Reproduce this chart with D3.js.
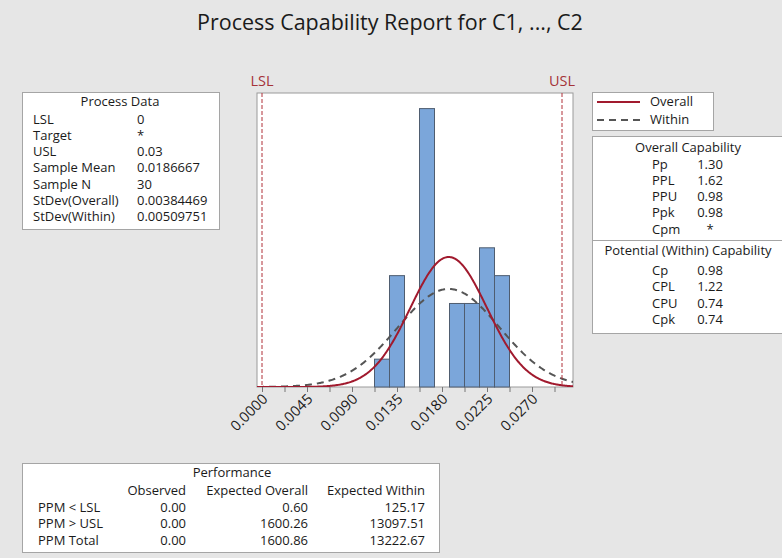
<!DOCTYPE html>
<html><head><meta charset="utf-8">
<script src="https://cdn.jsdelivr.net/npm/d3@7"></script>
<style>
body{margin:0;background:#e6e6e6;}
svg{display:block;}
text{font-family:"Open Sans","Noto Sans",sans-serif;fill:#1a1a1a;}
</style>
</head><body>
<svg id="chart" width="782" height="558"></svg>
<script>
// ---------- data ----------
const binCenters = [0.0120, 0.0135, 0.0150, 0.0165, 0.0180, 0.0195, 0.0210, 0.0225, 0.0240];
const binCounts  = [1, 4, 0, 10, 0, 3, 3, 5, 4];
const binWidth = 0.0015;
const xTickValues = [0, 0.00225, 0.0045, 0.00675, 0.009, 0.01125, 0.0135, 0.01575, 0.018, 0.02025, 0.0225, 0.02475, 0.027, 0.02925];
const xTickLabels = ["0.0000", "", "0.0045", "", "0.0090", "", "0.0135", "", "0.0180", "", "0.0225", "", "0.0270", ""];
const specNames  = ["LSL", "USL"];
const specValues = [0, 0.03];
const sampleMean = 0.0186667;
const sampleN = 30;
const sdOverall = 0.00384469;
const sdWithin = 0.00509751;
const processLabels = ["LSL", "Target", "USL", "Sample Mean", "Sample N", "StDev(Overall)", "StDev(Within)"];
const processValues = ["0", "*", "0.03", "0.0186667", "30", "0.00384469", "0.00509751"];
const overallLabels = ["Pp", "PPL", "PPU", "Ppk", "Cpm"];
const overallValues = ["1.30", "1.62", "0.98", "0.98", "*"];
const withinLabels = ["Cp", "CPL", "CPU", "Cpk"];
const withinValues = ["0.98", "1.22", "0.74", "0.74"];
const perfColumns = ["Observed", "Expected Overall", "Expected Within"];
const perfRowLabels = ["PPM < LSL", "PPM > USL", "PPM Total"];
const perfObserved = ["0.00", "0.00", "0.00"];
const perfExpOverall = ["0.60", "1600.26", "1600.86"];
const perfExpWithin = ["125.17", "13097.51", "13222.67"];

// ---------- layout ----------
const svg = d3.select("#chart");
const frame = {x0: 257, x1: 573, y0: 93, y1: 387};
const x = d3.scaleLinear().domain([-0.0005, 0.0311]).range([frame.x0, frame.x1]);
const y = d3.scaleLinear().domain([0, 10.56]).range([frame.y1, frame.y0]);

// title
const title = svg.append("text").attr("x", 390).attr("y", 30).attr("text-anchor", "middle")
  .style("font-size", "21px").text("Process Capability Report for C1, ..., C2");
const tw = title.node().getComputedTextLength();
title.style("font-size", (21 * 386 / tw) + "px");

// plot frame
svg.append("rect").attr("x", frame.x0).attr("y", frame.y0)
  .attr("width", frame.x1 - frame.x0).attr("height", frame.y1 - frame.y0)
  .attr("fill", "#fff").attr("stroke", "#9a9a9a").attr("stroke-width", 1);

svg.append("clipPath").attr("id", "clip").append("rect")
  .attr("x", frame.x0).attr("y", frame.y0).attr("width", frame.x1 - frame.x0).attr("height", frame.y1 - frame.y0);

// bars
svg.append("g").selectAll("rect").data(binCenters.map((c, i) => ({c, n: binCounts[i]})).filter(d => d.n > 0))
  .join("rect")
  .attr("x", d => x(d.c - binWidth / 2)).attr("width", d => x(d.c + binWidth / 2) - x(d.c - binWidth / 2))
  .attr("y", d => y(d.n)).attr("height", d => y(0) - y(d.n))
  .attr("fill", "#7ba6da").attr("stroke", "#4f5d70").attr("stroke-width", 1);

// fitted normal curves (from mean and st. dev. shown in Process Data)
function normalCurve(sd) {
  const pts = [];
  const [a, b] = x.domain();
  for (let i = 0; i <= 400; i++) {
    const v = a + (b - a) * i / 400;
    const dens = Math.exp(-0.5 * ((v - sampleMean) / sd) ** 2) / (sd * Math.sqrt(2 * Math.PI));
    pts.push([v, dens * sampleN * binWidth]);
  }
  return pts;
}
const line = d3.line().x(d => x(d[0])).y(d => y(d[1]));
const curves = svg.append("g").attr("clip-path", "url(#clip)");
curves.append("path").attr("d", line(normalCurve(sdWithin))).attr("fill", "none")
  .attr("stroke", "#555").attr("stroke-width", 2).attr("stroke-dasharray", "7,5");
curves.append("path").attr("d", line(normalCurve(sdOverall))).attr("fill", "none")
  .attr("stroke", "#a11a2e").attr("stroke-width", 2);

// spec limits
specValues.forEach((v, i) => {
  svg.append("line").attr("x1", x(v)).attr("x2", x(v)).attr("y1", frame.y0).attr("y2", frame.y1)
    .attr("stroke", "#b03038").attr("stroke-width", 1).attr("stroke-dasharray", "4,2");
  svg.append("text").attr("x", x(v)).attr("y", 86).attr("text-anchor", "middle")
    .style("font-size", "14.5px").style("fill", "#a53338").text(specNames[i]);
});

// x axis
const axis = d3.axisBottom(x).tickValues(xTickValues).tickSize(5).tickSizeOuter(0)
  .tickFormat((d, i) => xTickLabels[i]);
const gx = svg.append("g").attr("transform", `translate(0,${frame.y1})`).call(axis);
gx.select(".domain").remove();
gx.selectAll(".tick line").attr("stroke", "#777");
gx.selectAll(".tick text")
  .attr("y", 0).attr("dy", 0)
  .attr("transform", "translate(6,13) rotate(-45)")
  .attr("text-anchor", "end")
  .style("font-size", "14.5px").style("fill", "#1a1a1a")
  .style("font-family", '"Open Sans","Noto Sans",sans-serif');

// generic box helper
function box(x0, y0, w, h) {
  svg.append("rect").attr("x", x0 + 0.5).attr("y", y0 + 0.5).attr("width", w).attr("height", h)
    .attr("fill", "#fff").attr("stroke", "#a5a5a5");
}
const fs = "13px";

// Process Data box
box(22, 92, 197, 137);
svg.append("text").attr("x", 120).attr("y", 106).attr("text-anchor", "middle").style("font-size", fs).text("Process Data");
processLabels.forEach((l, i) => {
  const yy = 123.5 + i * 16.3;
  svg.append("text").attr("x", 33).attr("y", yy).style("font-size", fs).text(l);
  svg.append("text").attr("x", 137).attr("y", yy).style("font-size", fs).text(processValues[i]);
});

// Legend box
box(592, 92, 121, 38);
svg.append("line").attr("x1", 597).attr("x2", 640).attr("y1", 102).attr("y2", 102)
  .attr("stroke", "#a11a2e").attr("stroke-width", 2);
svg.append("line").attr("x1", 597).attr("x2", 640).attr("y1", 120).attr("y2", 120)
  .attr("stroke", "#555").attr("stroke-width", 2).attr("stroke-dasharray", "7,5");
svg.append("text").attr("x", 650).attr("y", 106).style("font-size", fs).text("Overall");
svg.append("text").attr("x", 650).attr("y", 124).style("font-size", fs).text("Within");

// Capability box
box(592, 136, 200, 197);
svg.append("line").attr("x1", 592).attr("x2", 782).attr("y1", 240.5).attr("y2", 240.5).attr("stroke", "#a5a5a5");
svg.append("text").attr("x", 688).attr("y", 151.5).attr("text-anchor", "middle").style("font-size", fs).text("Overall Capability");
overallLabels.forEach((l, i) => {
  const yy = 168.5 + i * 16.3;
  svg.append("text").attr("x", 652).attr("y", yy).style("font-size", fs).text(l);
  svg.append("text").attr("x", 710).attr("y", yy).attr("text-anchor", "middle").style("font-size", fs).text(overallValues[i]);
});
svg.append("text").attr("x", 688).attr("y", 254.5).attr("text-anchor", "middle").style("font-size", fs).text("Potential (Within) Capability");
withinLabels.forEach((l, i) => {
  const yy = 274.5 + i * 16.6;
  svg.append("text").attr("x", 652).attr("y", yy).style("font-size", fs).text(l);
  svg.append("text").attr("x", 710).attr("y", yy).attr("text-anchor", "middle").style("font-size", fs).text(withinValues[i]);
});

// Performance box
box(22, 463, 417, 89);
svg.append("text").attr("x", 232).attr("y", 476.5).attr("text-anchor", "middle").style("font-size", fs).text("Performance");
const colRight = [186, 308, 425];
perfColumns.forEach((c, j) => {
  svg.append("text").attr("x", colRight[j]).attr("y", 494.5).attr("text-anchor", "end").style("font-size", fs).text(c);
});
const perfCols = [perfObserved, perfExpOverall, perfExpWithin];
perfRowLabels.forEach((l, i) => {
  const yy = 511.5 + i * 16.6;
  svg.append("text").attr("x", 38).attr("y", yy).style("font-size", fs).text(l);
  perfCols.forEach((col, j) => {
    svg.append("text").attr("x", colRight[j]).attr("y", yy).attr("text-anchor", "end").style("font-size", fs).text(col[i]);
  });
});
</script>
</body></html>
